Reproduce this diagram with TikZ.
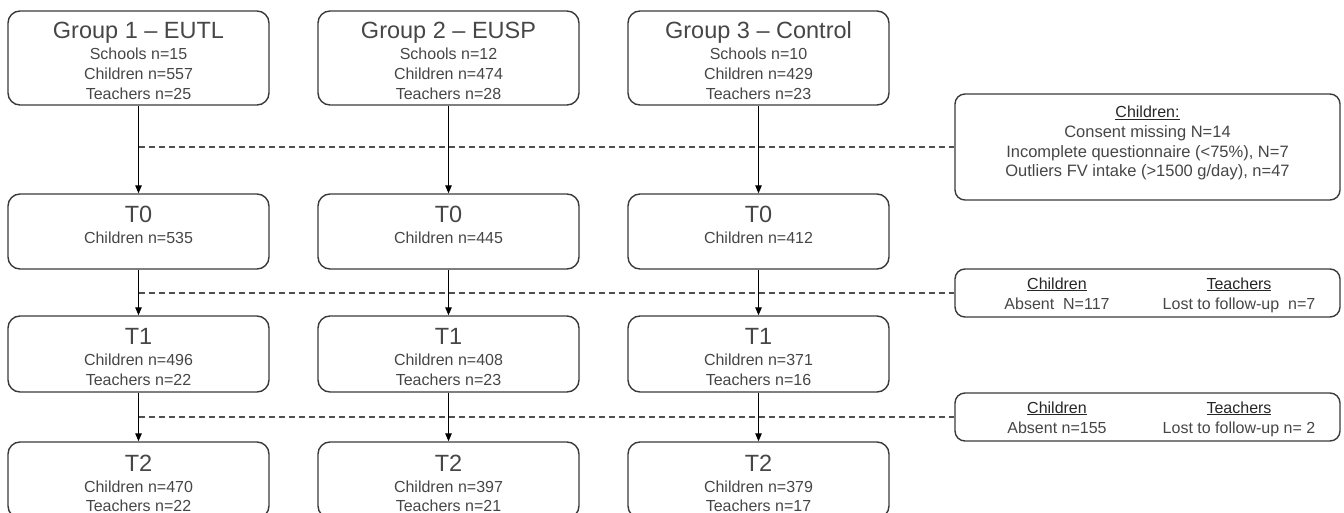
\documentclass[tikz,border=0pt]{standalone}
\usepackage{fontspec}
\setmainfont{Liberation Sans}
\usetikzlibrary{arrows.meta,calc}
\definecolor{ink}{HTML}{464646}
\definecolor{edge}{HTML}{3A3A3A}
\definecolor{dash}{HTML}{505050}
\begin{document}
\begin{tikzpicture}[x=1pt,y=-1pt,
  stagebox/.style={draw=edge, line width=1.4pt, rounded corners=12pt,
    minimum width=261pt, inner sep=0pt},
  exitbox/.style={draw=edge, line width=1.4pt, rounded corners=10pt,
    minimum width=385pt, inner sep=0pt},
  titletext/.style={anchor=base, inner sep=0pt, text=ink,
    font=\fontsize{23.5}{28}\selectfont},
  bodytext/.style={anchor=base, inner sep=0pt, text=ink,
    font=\fontsize{16}{20}\selectfont},
  sidetext/.style={anchor=base, inner sep=0pt, text=ink,
    font=\fontsize{16.5}{20}\selectfont},
  headtext/.style={anchor=base, inner sep=0pt, text=black!85,
    font=\fontsize{16}{20}\selectfont},
  flow/.style={draw=black, line width=1.1pt,
    -{Triangle[length=8pt,width=6.5pt]}},
  dropline/.style={draw=dash, line width=1.4pt, dash pattern=on 6pt off 4pt}]

\useasboundingbox (0,0) rectangle (1344,513);

% ---------- group boxes ----------
\node[stagebox, minimum height=94pt] (g1) at (138.5,58) {};
\node[titletext] (g1t) at (138.5,39) {Group 1 – EUTL};
\node[bodytext] (g1a) at (138.5,60) {Schools n=15};
\node[bodytext] (g1b) at (138.5,80) {Children n=557};
\node[bodytext] (g1c) at (138.5,100) {Teachers n=25};

\node[stagebox, minimum height=94pt] (g2) at (448.5,58) {};
\node[titletext] (g2t) at (448.5,39) {Group 2 – EUSP};
\node[bodytext] (g2a) at (448.5,60) {Schools n=12};
\node[bodytext] (g2b) at (448.5,80) {Children n=474};
\node[bodytext] (g2c) at (448.5,100) {Teachers n=28};

\node[stagebox, minimum height=94pt] (g3) at (758.5,58) {};
\node[titletext] (g3t) at (758.5,39) {Group 3 – Control};
\node[bodytext] (g3a) at (758.5,60) {Schools n=10};
\node[bodytext] (g3b) at (758.5,80) {Children n=429};
\node[bodytext] (g3c) at (758.5,100) {Teachers n=23};

% ---------- T0 ----------
\node[stagebox, minimum height=75pt] (a0) at (138.5,231.5) {};
\node[titletext] (a0t) at (138.5,222.5) {T0};
\node[bodytext] (a0a) at (138.5,243.5) {Children n=535};

\node[stagebox, minimum height=75pt] (b0) at (448.5,231.5) {};
\node[titletext] (b0t) at (448.5,222.5) {T0};
\node[bodytext] (b0a) at (448.5,243.5) {Children n=445};

\node[stagebox, minimum height=75pt] (c0) at (758.5,231.5) {};
\node[titletext] (c0t) at (758.5,222.5) {T0};
\node[bodytext] (c0a) at (758.5,243.5) {Children n=412};

% ---------- T1 ----------
\node[stagebox, minimum height=76pt] (a1) at (138.5,354) {};
\node[titletext] (a1t) at (138.5,344.5) {T1};
\node[bodytext] (a1a) at (138.5,365.5) {Children n=496};
\node[bodytext] (a1b) at (138.5,385.5) {Teachers n=22};

\node[stagebox, minimum height=76pt] (b1) at (448.5,354) {};
\node[titletext] (b1t) at (448.5,344.5) {T1};
\node[bodytext] (b1a) at (448.5,365.5) {Children n=408};
\node[bodytext] (b1b) at (448.5,385.5) {Teachers n=23};

\node[stagebox, minimum height=76pt] (c1) at (758.5,354) {};
\node[titletext] (c1t) at (758.5,344.5) {T1};
\node[bodytext] (c1a) at (758.5,365.5) {Children n=371};
\node[bodytext] (c1b) at (758.5,385.5) {Teachers n=16};

% ---------- T2 ----------
\node[stagebox, minimum height=76pt] (a2) at (138.5,480) {};
\node[titletext] (a2t) at (138.5,471) {T2};
\node[bodytext] (a2a) at (138.5,492) {Children n=470};
\node[bodytext] (a2b) at (138.5,511) {Teachers n=22};

\node[stagebox, minimum height=76pt] (b2) at (448.5,480) {};
\node[titletext] (b2t) at (448.5,471) {T2};
\node[bodytext] (b2a) at (448.5,492) {Children n=397};
\node[bodytext] (b2b) at (448.5,511) {Teachers n=21};

\node[stagebox, minimum height=76pt] (c2) at (758.5,480) {};
\node[titletext] (c2t) at (758.5,471) {T2};
\node[bodytext] (c2a) at (758.5,492) {Children n=379};
\node[bodytext] (c2b) at (758.5,511) {Teachers n=17};

% ---------- exclusion boxes ----------
\node[exitbox, minimum height=106pt] (exA) at (1147.5,147) {};
\node[headtext] (exAh) at (1147.5,118) {\underline{Children:}};
\node[sidetext] (exA1) at (1147.5,138) {Consent missing N=14};
\node[sidetext] (exA2) at (1147.5,158) {Incomplete questionnaire (<75\%), N=7};
\node[sidetext] (exA3) at (1147.5,177) {Outliers FV intake (>1500 g/day), n=47};

\node[exitbox, minimum height=48pt] (exB) at (1147.5,293) {};
\node[headtext] (exBh1) at (1057,289) {\underline{Children}};
\node[headtext] (exBh2) at (1239,289) {\underline{Teachers}};
\node[bodytext] (exB1) at (1057,309) {Absent\ \ N=117};
\node[bodytext] (exB2) at (1239,309) {Lost to follow-up\ \ n=7};

\node[exitbox, minimum height=48pt] (exC) at (1147.5,417) {};
\node[headtext] (exCh1) at (1057,413) {\underline{Children}};
\node[headtext] (exCh2) at (1239,413) {\underline{Teachers}};
\node[bodytext] (exC1) at (1057,433) {Absent n=155};
\node[bodytext] (exC2) at (1239,433) {Lost to follow-up n= 2};

% ---------- dropout lines ----------
\coordinate (d1) at (138.5,147);
\coordinate (d2) at (138.5,293);
\coordinate (d3) at (138.5,417);
\draw[dropline] (d1) -- (d1 -| exA.west);
\draw[dropline] (d2) -- (d2 -| exB.west);
\draw[dropline] (d3) -- (d3 -| exC.west);

% ---------- flow arrows ----------
\draw[flow] (g1) -- (a0);
\draw[flow] (g2) -- (b0);
\draw[flow] (g3) -- (c0);
\draw[flow] (a0) -- (a1);
\draw[flow] (b0) -- (b1);
\draw[flow] (c0) -- (c1);
\draw[flow] (a1) -- (a2);
\draw[flow] (b1) -- (b2);
\draw[flow] (c1) -- (c2);
\end{tikzpicture}
\end{document}
